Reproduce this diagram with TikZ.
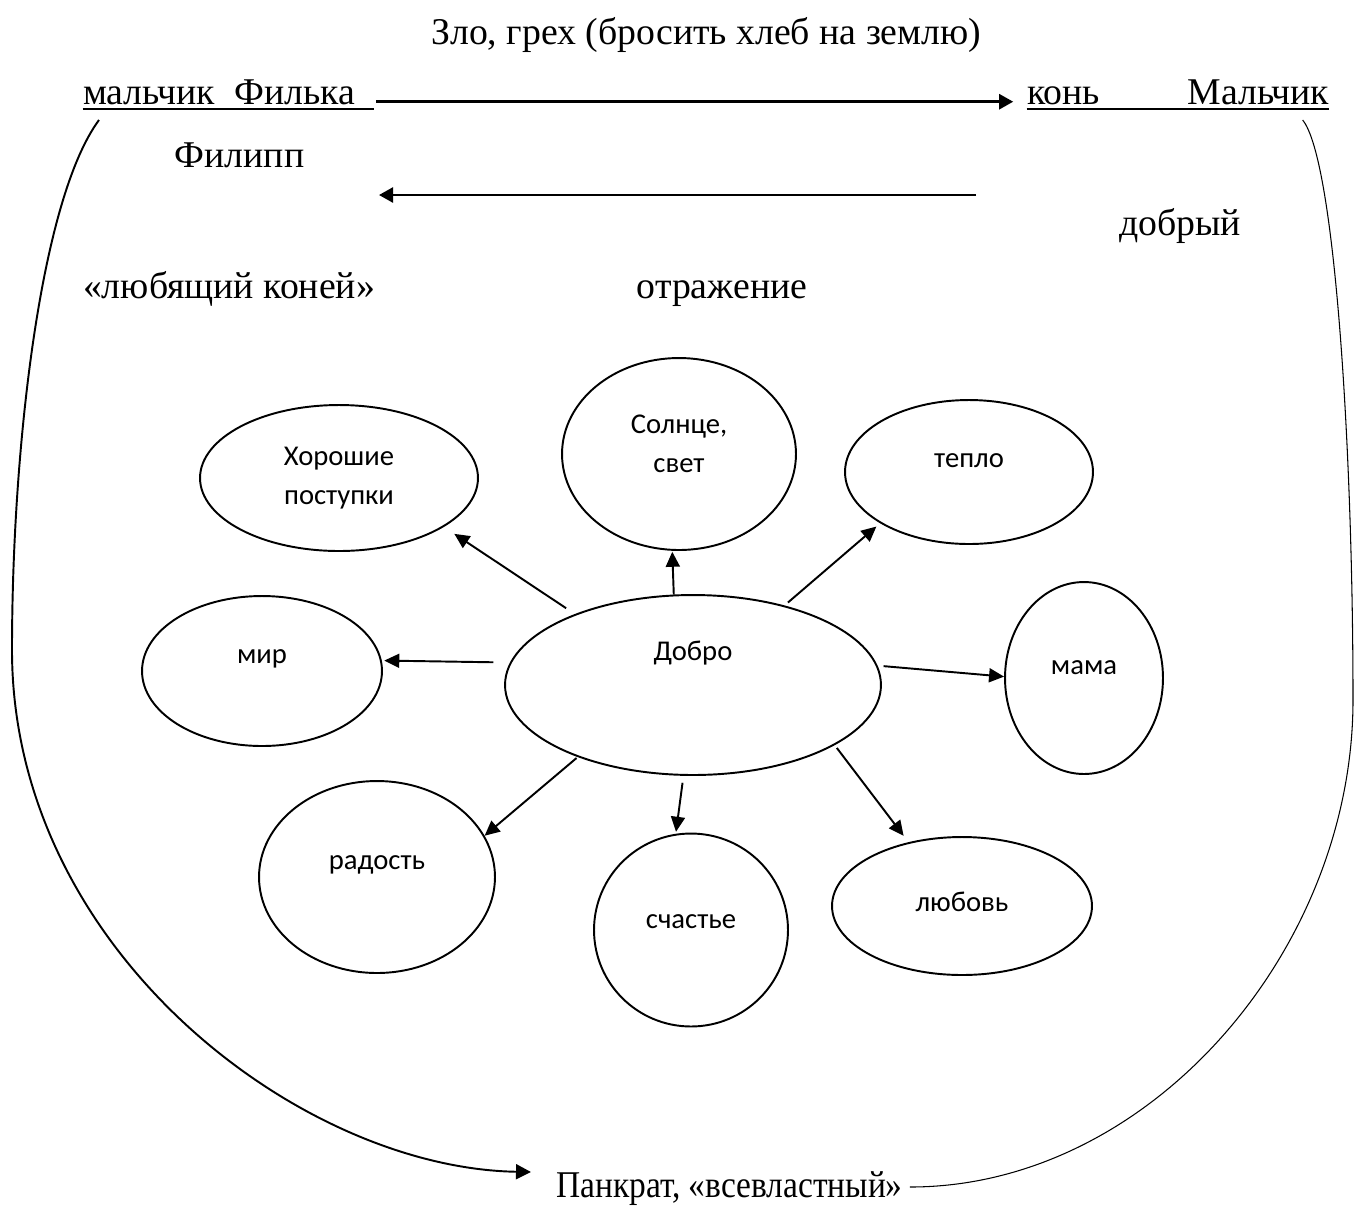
\documentclass[tikz,border=0pt]{standalone}
\usepackage{fontspec}
\setmainfont{Liberation Serif}
\newfontfamily\bubfamily{Carlito}
\usetikzlibrary{shapes.geometric,arrows.meta}
\begin{document}
\begin{tikzpicture}[x=0.02cm,y=-0.02cm,
  serif/.style={font=\fontsize{21.5}{26}\selectfont, inner sep=0pt},
  bub/.style={ellipse, draw, line width=1.1pt, inner sep=0pt},
  btxt/.style={font=\bubfamily\fontsize{16.3}{22}\selectfont, align=center, inner sep=0pt},
  arr/.style={-{Triangle[length=0.3cm,width=0.28cm]}, line width=1.1pt},
  toparr/.style={-{Triangle[length=0.28cm,width=0.3cm]}, line width=1.4pt},
  ulrule/.style={line width=1.1pt},
  lcurve/.style={line width=1.1pt, -{Triangle[length=0.3cm,width=0.3cm]}},
  rcurve/.style={line width=0.6pt}]
\useasboundingbox (0,0) rectangle (1356,1205);

% texts
\node[serif, anchor=base] (title) at (706.5,44) {Зло, грех (бросить хлеб на землю)};
\node[serif, anchor=base west] (fil) at (82.7,104.3) {мальчик\hspace{0.4cm}Филька\hspace{0.37cm}\strut};
\node[serif, anchor=base west, text width=6.04cm] (kon) at (1026.7,104.3) {конь\hfill Мальчик};
\node[serif, anchor=base] (filipp) at (239.5,167.3) {Филипп};
\node[serif, anchor=base] (dobr) at (1180,235) {добрый};
\node[serif, anchor=base west] (lubk) at (82.7,298.3) {«любящий коней»};
\node[serif, anchor=base] (otr) at (722,298) {отражение};
\node[serif, anchor=base west] (pank) at (556,1197) {\scalebox{0.885}[1]{Панкрат, «всевластный»}};

% underlines
\draw[ulrule] ([yshift=-0.1cm]fil.base west) -- ([yshift=-0.1cm]fil.base east);
\draw[ulrule] ([yshift=-0.1cm]kon.base west) -- ([yshift=-0.1cm]kon.base east);

% top arrows
\draw[toparr, shorten <=0.04cm, shorten >=0.27cm] ([yshift=0.052cm]fil.base east) -- ([yshift=0.052cm]kon.base west);
\coordinate (ba1) at (976,195);
\coordinate (ba2) at (379,195);
\draw[toparr] (ba1) -- (ba2);

% bubbles
\node[bub, minimum width=7.52cm, minimum height=3.60cm, label={[btxt, yshift=0.64cm]center:Добро}] (dobro) at (693,685) {};
\node[bub, minimum width=5.56cm, minimum height=2.92cm, label={[btxt]center:{Хорошие\\поступки}}] (xor) at (339,478) {};
\node[bub, minimum width=4.68cm, minimum height=3.84cm, label={[btxt, yshift=0.2cm]center:{Солнце,\\свет}}] (sun) at (679,454) {};
\node[bub, minimum width=4.96cm, minimum height=2.88cm, label={[btxt, yshift=0.22cm]center:тепло}] (warm) at (969,472) {};
\node[bub, minimum width=4.80cm, minimum height=3.00cm, label={[btxt, yshift=0.24cm]center:мир}] (mir) at (262,671) {};
\node[bub, minimum width=3.16cm, minimum height=3.84cm, label={[btxt, yshift=0.2cm]center:мама}] (mama) at (1084,678) {};
\node[bub, minimum width=4.72cm, minimum height=3.84cm, label={[btxt, yshift=0.24cm]center:радость}] (rad) at (377,877) {};
\node[bub, minimum width=3.88cm, minimum height=3.86cm, label={[btxt, yshift=0.17cm]center:счастье}] (sch) at (691,930) {};
\node[bub, minimum width=5.20cm, minimum height=2.76cm, label={[btxt, yshift=0.08cm]center:любовь}] (lub) at (962,906) {};

% arrows from Добро
\draw[arr, shorten <=0.21cm, shorten >=0.25cm] (dobro.149) -- (xor.-25);
\draw[arr, shorten >=0.02cm] (dobro.102) -- (sun.-94);
\draw[arr, shorten <=0.09cm, shorten >=0.1cm] (dobro.41) -- (warm.210);
\draw[arr, shorten <=0.33cm, shorten >=0.05cm] (dobro.173) -- (mir.5);
\draw[arr, shorten <=0.12cm] (dobro.6) -- (mama.179);
\draw[arr, shorten <=0.03cm] (dobro.212) -- (rad.21);
\draw[arr, shorten <=0.14cm, shorten >=0.04cm] (dobro.264) -- (sch.99);
\draw[arr, shorten <=0.07cm, shorten >=0.16cm] (dobro.-23) -- (lub.130);

% big curves
\draw[lcurve] ([xshift=0.326cm,yshift=-0.314cm]fil.base west) .. controls (40,200) and (12,450) .. (12,650)
  .. controls (12,950) and (300,1168) .. ([xshift=-0.5cm,yshift=0.5cm]pank.base west);
\draw[rcurve] ([xshift=-0.534cm,yshift=-0.314cm]kon.base east) .. controls (1335,160) and (1353,450) .. (1353,700)
  .. controls (1353,950) and (1150,1187) .. ([xshift=0.14cm,yshift=0.2cm]pank.base east);
\end{tikzpicture}
\end{document}
